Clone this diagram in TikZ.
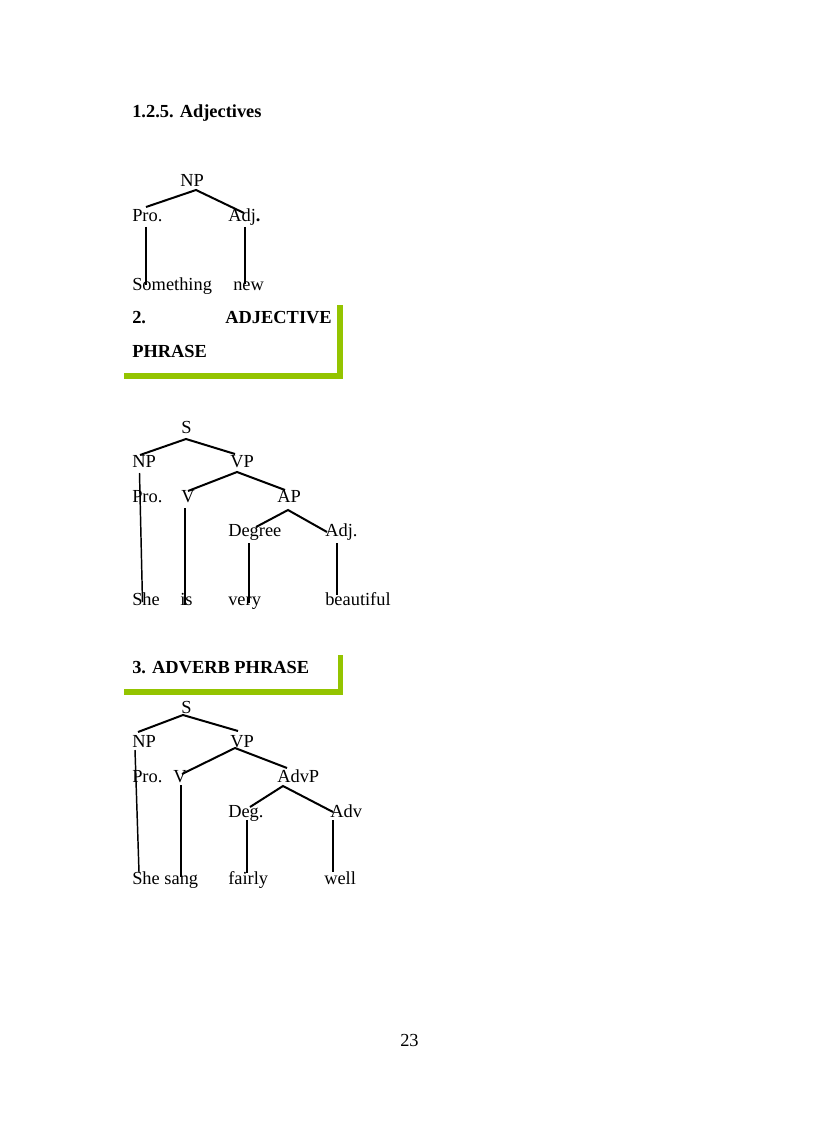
\documentclass[tikz,border=0pt]{standalone}
\usepackage{fontspec}
\setmainfont{Liberation Serif}
\usepackage{xcolor}
\definecolor{lime}{HTML}{94C400}

\tikzset{
    word/.style={anchor=base west,inner sep=0pt,font=\fontsize{13.8}{16}\selectfont},
    head/.style={word,font=\fontsize{13.8}{16}\selectfont\bfseries},
    branch/.style={line width=1.5pt},
    stem/.style={line width=1.1pt},
    bar/.style={fill=lime,draw=none}
}

\begin{document}
\begin{tikzpicture}[x=0.75pt,y=-0.75pt]
    	\useasboundingbox (0,0) rectangle (816,1123);
    	% title
    	\node[head] (title) at (132,118) {1.2.5. Adjectives};
    	% tree 1
    	\node[word] (np1) at (180,187) {NP};
    	\node[word] (pro1) at (132,222) {Pro.};
    	\node[word] (adj1) at (228,222) {Adj\textbf{.}};
    	\node[word] (sth) at (132,290) {Something};
    	\node[word] (new) at (233,290) {new};
    	\coordinate (np1top) at (196,190);
    	\draw[branch] (146,207) -- (np1top) -- (244,213);
    	\draw[stem] (146,227) -- (146,285);
    	\draw[stem] (245,227) -- (245,284);
    	% heading 2 with green frame
    	\fill[bar] (337,305) rectangle (343,379);
    	\fill[bar] (124,373) rectangle (343,379);
    	\node[head] (h2a) at (132,323) {2.};
    	\node[head,anchor=base east] (h2b) at (332,323) {ADJECTIVE};
    	\node[head] (h2c) at (132,357) {PHRASE};
    	% tree 2
    	\node[word] (s2) at (181,433) {S};
    	\node[word] (np2) at (132,467) {NP};
    	\node[word] (vp2) at (230,467) {VP};
    	\node[word] (pro2) at (132,502) {Pro.};
    	\node[word] (v2) at (181,502) {V};
    	\node[word] (ap2) at (277,502) {AP};
    	\node[word] (deg2) at (228,536) {Degree};
    	\node[word] (adj2) at (325,536) {Adj.};
    	\node[word] (she2) at (132,605) {She};
    	\node[word] (is2) at (180,605) {is};
    	\node[word] (very2) at (228,605) {very};
    	\node[word] (beau2) at (325,605) {beautiful};
    	\draw[branch] (140,455) -- (186,439) -- (235,454);
    	\draw[branch] (188,491) -- (237,472) -- (285,490);
    	\draw[branch] (256,527) -- (288,510) -- (327,532);
    	\draw[stem] (139.5,473) -- (142.5,602);
    	\draw[stem] (185,508) -- (185,605);
    	\draw[stem] (249,543) -- (249,603);
    	\draw[stem] (337,543) -- (337,595);
    	% heading 3 with green frame
    	\fill[bar] (338,655) rectangle (343,695);
    	\fill[bar] (124,689) rectangle (343,695);
    	\node[head] (h3) at (132,673) {3. ADVERB PHRASE};
    	% tree 3
    	\node[word] (s3) at (181,713) {S};
    	\node[word] (np3) at (132,747) {NP};
    	\node[word] (vp3) at (230,747) {VP};
    	\node[word] (pro3) at (132,782) {Pro.};
    	\node[word] (v3) at (173,782) {V};
    	\node[word] (advp3) at (277,782) {AdvP};
    	\node[word] (deg3) at (228,817) {Deg.};
    	\node[word] (adv3) at (330,817) {Adv};
    	\node[word] (she3) at (132,884) {She sang};
    	\node[word] (fair3) at (228,884) {fairly};
    	\node[word] (well3) at (324,884) {well};
    	\draw[branch] (138,732) -- (183,715) -- (238,731);
    	\draw[branch] (182,774) -- (235,748) -- (287,768);
    	\draw[branch] (250,807) -- (283,786) -- (333,812);
    	\draw[stem] (135,750) -- (139,872);
    	\draw[stem] (181,785) -- (181,877);
    	\draw[stem] (247,820) -- (247,873);
    	\draw[stem] (333,820) -- (333,872);
    	% page number
    	\node[word] (page) at (400,1046) {23};
\end{tikzpicture}
\end{document}
